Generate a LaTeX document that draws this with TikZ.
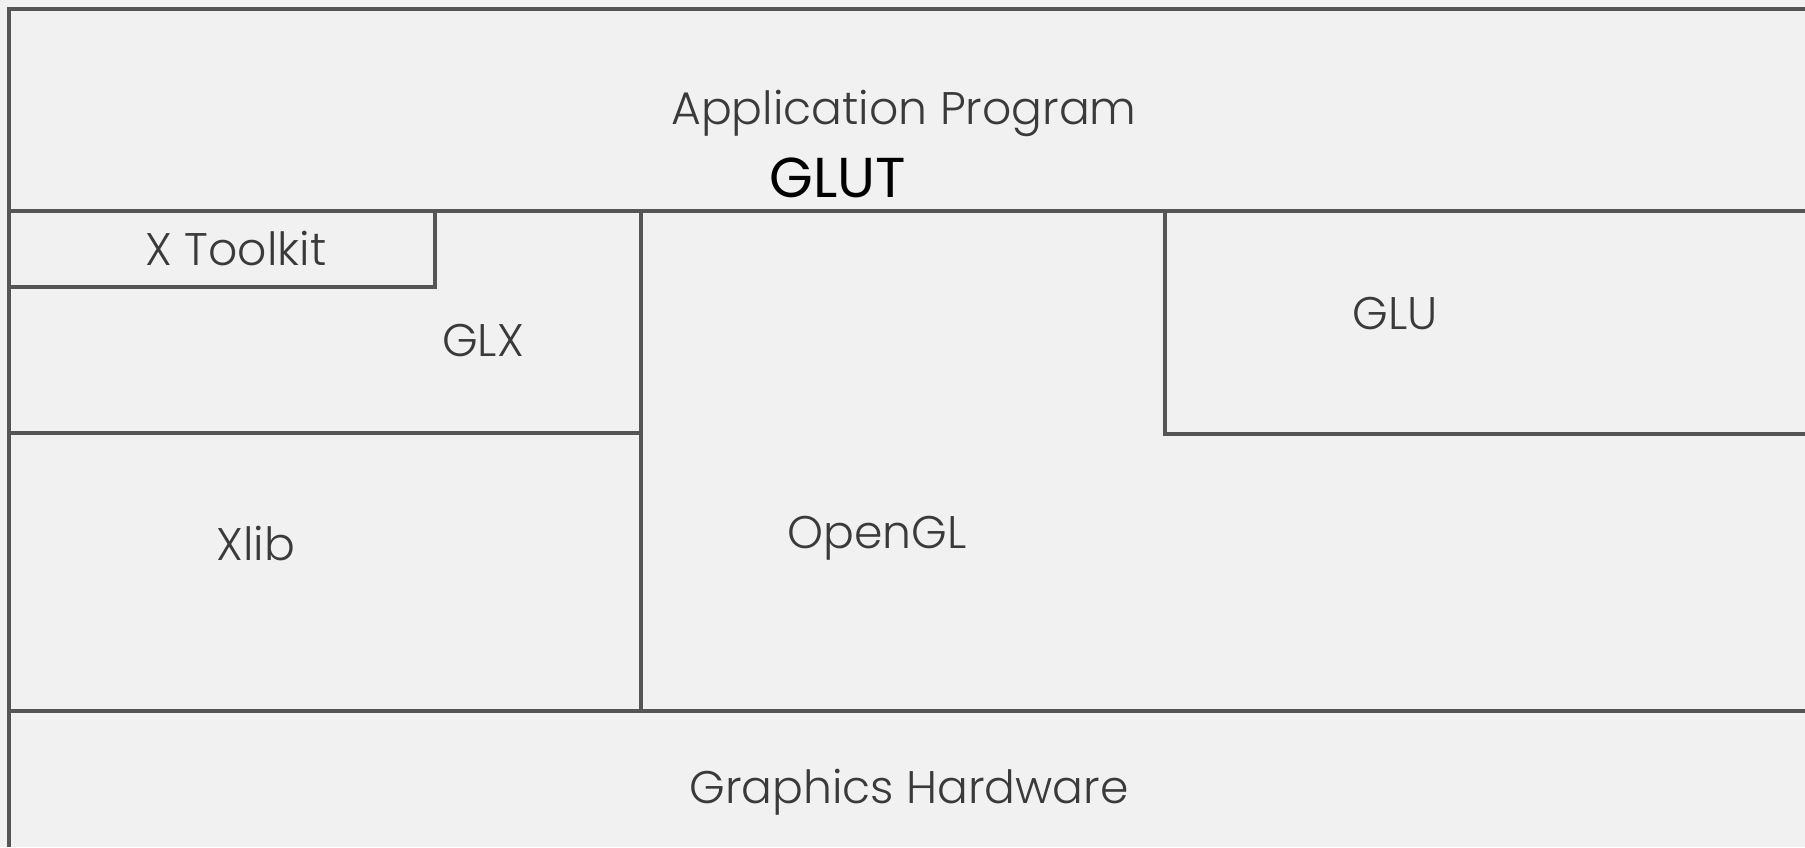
\documentclass[tikz,border=0pt]{standalone}
\usepackage{fontspec}
\setmainfont{Poppins}[UprightFont=* Light]
\newfontfamily\glutfont{Poppins}
\usepackage{tikz}
\usetikzlibrary{positioning}
\definecolor{paper}{HTML}{F1F1F1}
\definecolor{ink}{HTML}{3A3A3A}
\definecolor{rule}{HTML}{555555}
\tikzstyle{lbl}=[text=ink, font=\fontsize{13}{15}\selectfont, inner sep=0pt]
\tikzstyle{glut}=[text=black, font=\glutfont\fontsize{16}{18}\selectfont, inner sep=0pt]
\tikzstyle{edge}=[draw=rule, line width=0.9pt]

\begin{document}
\begin{tikzpicture}[x=0.1mm,y=-0.1mm]
\useasboundingbox (0,0) rectangle (1805,847);
\fill[paper] (0,0) rectangle (1805,847);

% layers
\coordinate (tl) at (9,9);
\coordinate (tr) at (1805,9);
\coordinate (bl) at (9,847);
\coordinate (appl) at (9,211);
\coordinate (appr) at (1805,211);
\coordinate (xtr) at (435,211);
\coordinate (xbr) at (435,287);
\coordinate (xbl) at (9,287);
\coordinate (glxl) at (9,433);
\coordinate (glxr) at (641,433);
\coordinate (vtop) at (641,211);
\coordinate (vbot) at (641,711);
\coordinate (glul) at (1165,211);
\coordinate (glubl) at (1165,434);
\coordinate (glubr) at (1805,434);
\coordinate (hwl) at (9,711);
\coordinate (hwr) at (1805,711);

\draw[edge] (bl) -- (tl) -- (tr);
\draw[edge] (appl) -- (appr);
\draw[edge] (xtr) -- (xbr) -- (xbl);
\draw[edge] (glxl) -- (glxr);
\draw[edge] (vtop) -- (vbot);
\draw[edge] (glul) -- (glubl) -- (glubr);
\draw[edge] (hwl) -- (hwr);

\node[lbl] at (904,113) (app) {Application Program};
\node[glut] at (838,178) (glut) {GLUT};
\node[lbl] at (236,248) (xtk) {X Toolkit};
\node[lbl] at (483,340) (glx) {GLX};
\node[lbl] at (1395,313) (glu) {GLU};
\node[lbl] at (256,543) (xlib) {Xlib};
\node[lbl] at (877,538) (ogl) {OpenGL};
\node[lbl] at (909,792) (hw) {Graphics Hardware};
\end{tikzpicture}
\end{document}
